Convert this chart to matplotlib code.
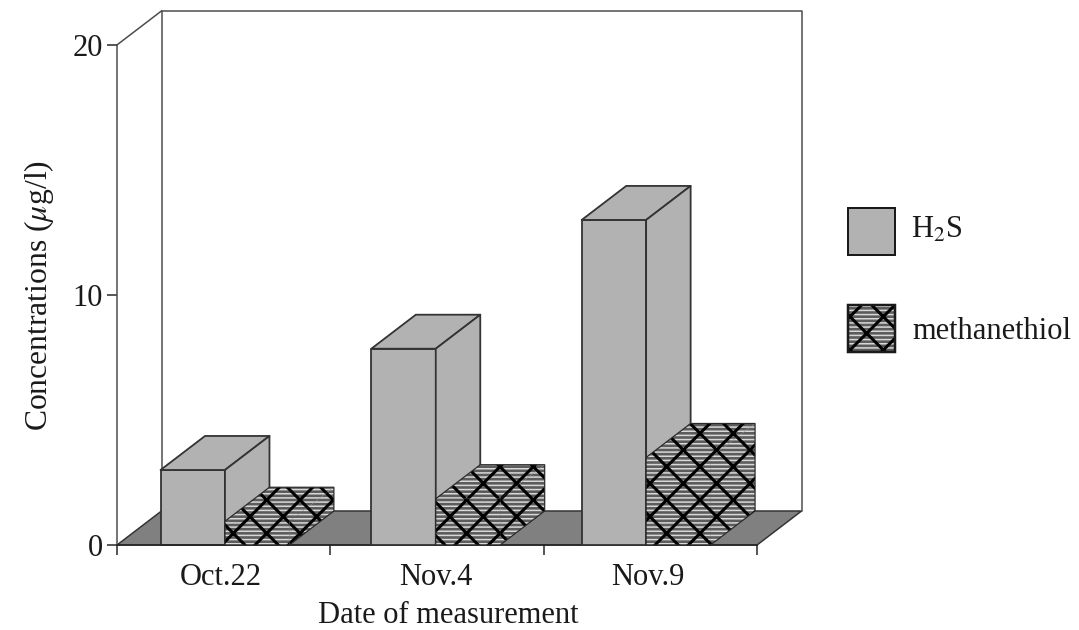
import matplotlib
matplotlib.use('Agg')
import matplotlib.pyplot as plt
from matplotlib.patches import Polygon, Rectangle

dates = ['Oct.22', 'Nov.4', 'Nov.9']
h2s = [3.0, 7.85, 13.0]
methanethiol = [0.95, 1.85, 3.5]
y_ticks = [0, 10, 20]
# the groups are not quite evenly centred on the x ticks in the original
group_x = [0.506, 1.494, 2.48]
label_x = [0.487, 1.494, 2.49]

W, H = 1079, 630
DPI = 200
# hatch tile size follows the dpi, 200 gives about the right diamond size
BAR_GREY = '#b2b2b2'
FLOOR_GREY = '#808080'
LINE = '#4a4a4a'
TEXT = '#1a1a1a'
STRIPE_BASE = '#5c5c5c'
STRIPE = '#d8d8d8'
FONT = 11
PX = 72 / DPI

plt.rcParams['font.family'] = ['Liberation Serif']
plt.rcParams['mathtext.fontset'] = 'stix'
plt.rcParams['axes.linewidth'] = 1.5 * PX

fig = plt.figure(figsize=((W + 0.1) / DPI, (H + 0.1) / DPI), dpi=DPI)
left, right, top, bottom = 117, 757, 45, 545
ax = fig.add_axes([left / W, 1 - bottom / H, (right - left) / W, (bottom - top) / H])
ax.set_xlim(0, 3)
ax.set_ylim(0, 20)
ax.patch.set_visible(False)
ax.spines['top'].set_visible(False)
ax.spines['right'].set_visible(False)
ax.spines['left'].set_color(LINE)
ax.spines['bottom'].set_color('#222222')

# depth of the fake 3d box, in data units
depth_x = 44.5 / ((right - left) / 3)
depth_y = 34 / ((bottom - top) / 20)
bar_w = 0.302


def poly(points, **kw):
    p = Polygon(points, closed=True, clip_on=False, **kw)
    ax.add_patch(p)
    return p


def box_faces(x0, x1, val):
    front = [(x0, 0), (x1, 0), (x1, val), (x0, val)]
    roof = [(x0, val), (x1, val), (x1 + depth_x, val + depth_y), (x0 + depth_x, val + depth_y)]
    side = [(x1, 0), (x1 + depth_x, depth_y), (x1 + depth_x, val + depth_y), (x1, val)]
    return front, roof, side


def hatched(points, z):
    stripes = poly(points, facecolor=STRIPE_BASE, edgecolor=STRIPE, hatch='-' * 8, linewidth=0, zorder=z)
    stripes.set_hatch_linewidth(0.55)
    grid = poly(points, facecolor='none', edgecolor='black', hatch='xx', linewidth=0, zorder=z + 0.1)
    grid.set_hatch_linewidth(1.1)


# walls and floor
poly([(0, 0), (3, 0), (3 + depth_x, depth_y), (depth_x, depth_y)],
     facecolor=FLOOR_GREY, edgecolor='#333333', linewidth=1.5 * PX, zorder=1)
wall_x = [depth_x, depth_x, 3 + depth_x, 3 + depth_x]
wall_y = [depth_y, 20 + depth_y, 20 + depth_y, depth_y]
ax.plot(wall_x, wall_y, color=LINE, linewidth=1.5 * PX, clip_on=False, zorder=1)
ax.plot([0, depth_x], [20, 20 + depth_y], color=LINE, linewidth=1.5 * PX, clip_on=False, zorder=1)

z = 2
for i in range(len(dates)):
    centre = group_x[i]
    # H2S on the left half of each group
    for face in box_faces(centre - bar_w, centre, h2s[i]):
        poly(face, facecolor=BAR_GREY, edgecolor='#333333', linewidth=1.8 * PX, joinstyle='round', zorder=z)
    z += 1
    # methanethiol, same texture on all three faces
    front, roof, side = box_faces(centre, centre + bar_w, methanethiol[i])
    for face in (front, roof, side):
        hatched(face, z)
    z += 1
    outline = [front[0], front[1], side[1], side[2], roof[3], front[3]]
    poly(outline, facecolor='none', edgecolor='#2a2a2a', linewidth=1.2 * PX, zorder=z)
    z += 1

ax.set_yticks(y_ticks)
ax.set_xticks([0, 1, 2, 3])
ax.set_xticklabels([])
ax.set_xticks(label_x, minor=True)
ax.set_xticklabels(dates, minor=True)
ax.tick_params(axis='x', which='major', length=10 * PX, width=1.5 * PX, color='#222222')
ax.tick_params(axis='x', which='minor', length=0, labelsize=FONT, pad=6.3, labelcolor=TEXT)
ax.tick_params(axis='y', length=10 * PX, width=1.5 * PX, color='#222222', labelsize=FONT, pad=1.5, labelcolor=TEXT)
ax.set_xlabel('Date of measurement', fontsize=FONT, color=TEXT, labelpad=3.5, x=0.517)
ax.set_ylabel(r'Concentrations ($\mu$g/l)', fontsize=11.4, color=TEXT, labelpad=6)


# legend, placed by hand because the swatches are big squares
def fig_rect(x0, y0, w, h, **kw):
    r = Rectangle((x0 / W, 1 - (y0 + h) / H), w / W, h / H, transform=fig.transFigure, **kw)
    fig.add_artist(r)
    return r


fig_rect(848, 208, 47, 47, facecolor=BAR_GREY, edgecolor=TEXT, linewidth=2 * PX)
fig_rect(848, 305, 47, 47, facecolor=STRIPE_BASE, edgecolor=STRIPE, hatch='-' * 8, linewidth=0).set_hatch_linewidth(0.55)
fig_rect(848, 305, 47, 47, facecolor='none', edgecolor='black', hatch='xx', linewidth=0).set_hatch_linewidth(1.1)
fig_rect(848, 305, 47, 47, facecolor='none', edgecolor=TEXT, linewidth=2.5 * PX)
fig.text(911 / W, 1 - 230 / H, 'H$_2$S', fontsize=FONT, color=TEXT, va='center', ha='left')
fig.text(912 / W, 1 - 331 / H, 'methanethiol', fontsize=FONT, color=TEXT, va='center', ha='left')

fig.savefig('out.png', dpi=DPI, facecolor='white')
